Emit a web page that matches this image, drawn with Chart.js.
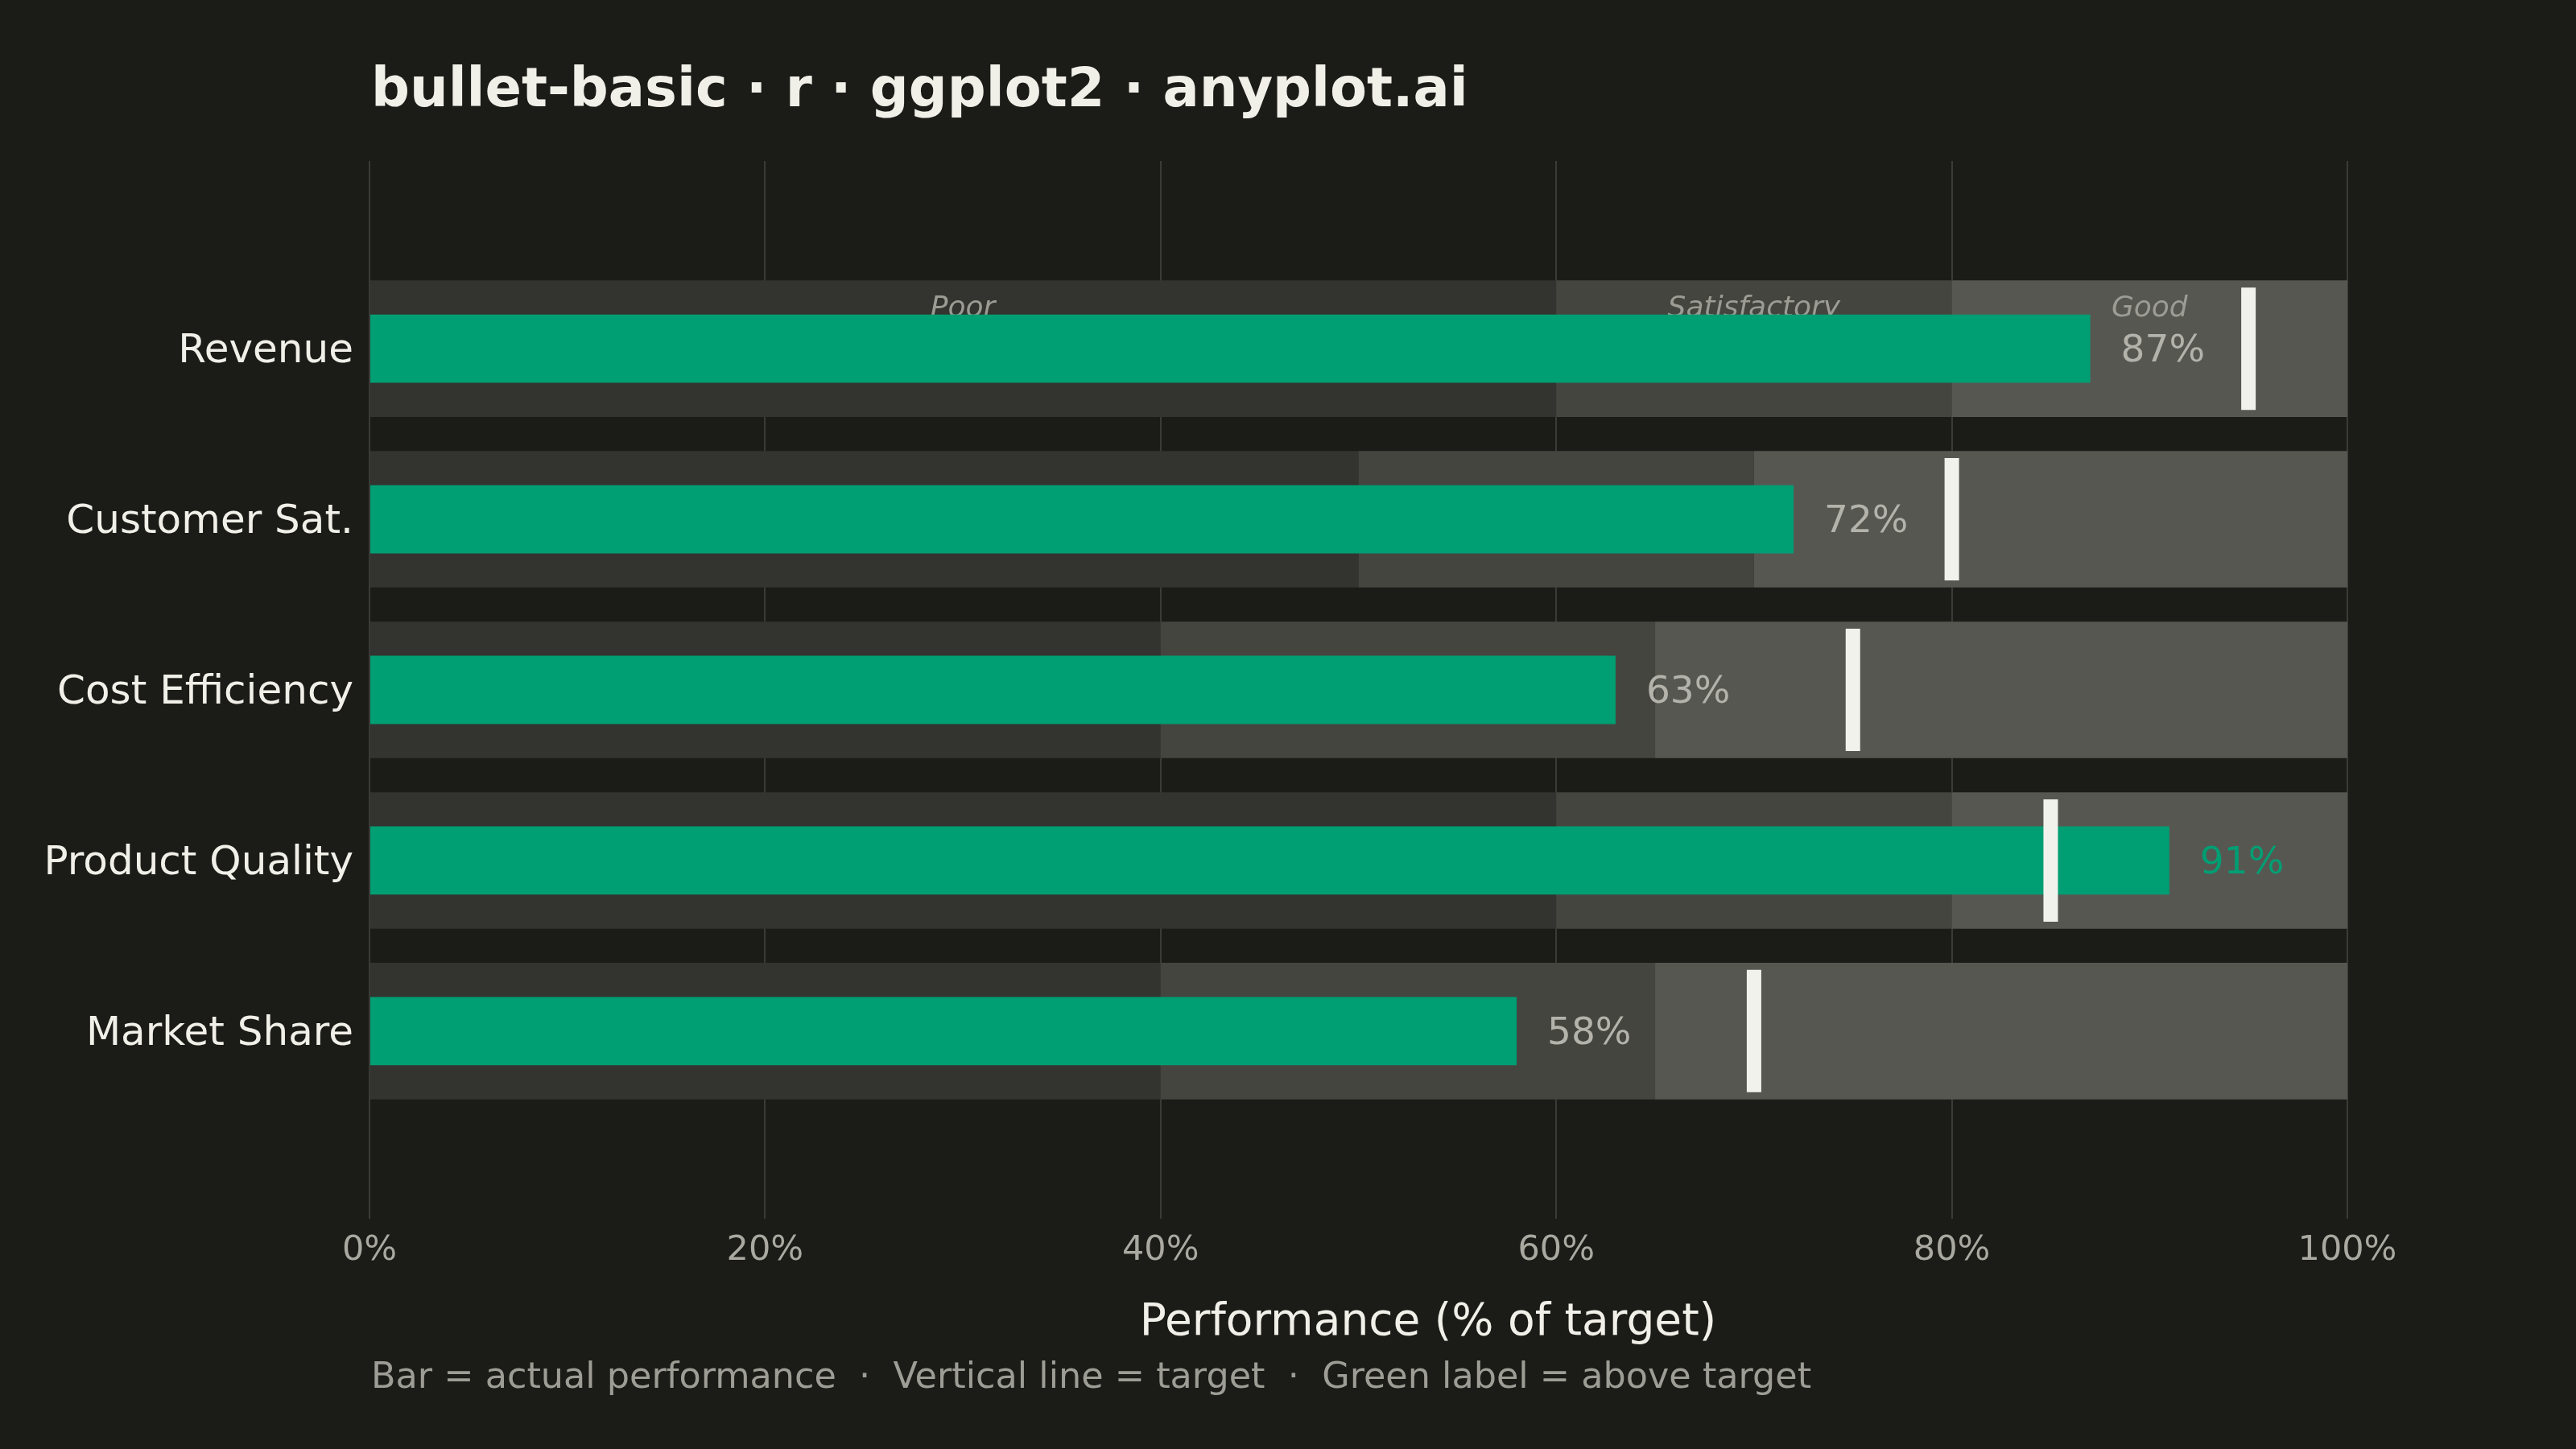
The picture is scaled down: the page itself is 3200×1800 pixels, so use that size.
<!DOCTYPE html>
<html>
<head>
<meta charset="utf-8">
<title>bullet-basic</title>
<script src="https://cdn.jsdelivr.net/npm/chart.js@4.4.1/dist/chart.umd.min.js"></script>
<style>
  html, body { margin: 0; padding: 0; background: #1b1b17; }
  canvas { display: block; }
</style>
</head>
<body>
<canvas id="bullet-chart" width="3200" height="1800"></canvas>
<script>
// Data

const categories = ['Revenue', 'Customer Sat.', 'Cost Efficiency', 'Product Quality', 'Market Share'];
const actual = [87, 72, 63, 91, 58];
const target = [95, 80, 75, 85, 70];
const poorEnd = [60, 50, 40, 60, 40];
const satisfactoryEnd = [80, 70, 65, 80, 65];
const goodEnd = [100, 100, 100, 100, 100];
const bandNames = ['Poor', 'Satisfactory', 'Good'];
const xTicks = [0, 20, 40, 60, 80, 100];

const titleText = 'bullet-basic · r · ggplot2 · anyplot.ai';
const xTitleText = 'Performance (% of target)';
const captionText = 'Bar = actual performance  \u00b7  Vertical line = target  \u00b7  Green label = above target';

// Colours

const BG = '#1b1b17';
const INK = '#f0efe8';
const MUTED = '#a9a9a1';
const GREEN = '#009e73';
const GRID = '#3a3a36';
const BAND_COLORS = ['#33332f', '#454540', '#575752'];

Chart.defaults.font.family = '"DejaVu Sans", sans-serif';

const rows = categories.map((c, i) => i + 1);

function bandData(starts, ends) {
    return rows.map((r, i) => ({ x: [starts[i], ends[i]], y: r }));
}

const zeros = rows.map(() => 0);

// Draw page background, band labels, value labels, titles and caption

const overlay = {
    id: 'overlay',
    beforeDraw(chart) {
        const ctx = chart.ctx;
        ctx.save();
        ctx.fillStyle = BG;
        ctx.fillRect(0, 0, chart.width, chart.height);
        ctx.restore();
    },
    afterDatasetDraw(chart, args) {
        // band names go on the first row, under the actual bar
        if (args.index !== 2) return;
        const { ctx, scales: { x, y } } = chart;
        const starts = [0, poorEnd[0], satisfactoryEnd[0]];
        const ends = [poorEnd[0], satisfactoryEnd[0], goodEnd[0]];
        ctx.save();
        ctx.font = 'italic 36px "DejaVu Sans"';
        ctx.fillStyle = '#9c9c94';
        ctx.textAlign = 'center';
        ctx.textBaseline = 'alphabetic';
        const yy = y.getPixelForValue(rows[0]) - 40;
        bandNames.forEach((name, i) => {
            ctx.fillText(name, x.getPixelForValue((starts[i] + ends[i]) / 2), yy);
        });
        ctx.restore();
    },
    afterDatasetsDraw(chart) {
        const { ctx, scales: { x, y } } = chart;
        ctx.save();
        ctx.font = '47px "DejaVu Sans"';
        ctx.textAlign = 'left';
        ctx.textBaseline = 'middle';
        actual.forEach((v, i) => {
            ctx.fillStyle = v > target[i] ? GREEN : '#b3b3ab';
            ctx.fillText(v + '%', x.getPixelForValue(v) + 38, y.getPixelForValue(rows[i]) + 4);
        });
        ctx.restore();
    },
    afterDraw(chart) {
        const { ctx, chartArea } = chart;
        ctx.save();
        ctx.textAlign = 'left';
        ctx.textBaseline = 'alphabetic';
        ctx.fillStyle = INK;
        ctx.font = 'bold 67px "DejaVu Sans"';
        ctx.fillText(titleText, chartArea.left + 2, 132);

        ctx.textAlign = 'center';
        ctx.font = '55px "DejaVu Sans"';
        ctx.fillText(xTitleText, 1774, 1658);

        ctx.textAlign = 'left';
        ctx.fillStyle = '#9d9d96';
        ctx.font = '44.5px "DejaVu Sans"';
        ctx.fillText(captionText, chartArea.left + 2, 1724);
        ctx.restore();
    }
};

const ctx = document.getElementById('bullet-chart').getContext('2d');

const bulletChart = new Chart(ctx, {
    type: 'bar',
    data: {
        datasets: [
            {
                label: bandNames[0],
                data: bandData(zeros, poorEnd),
                backgroundColor: BAND_COLORS[0],
                barPercentage: 0.8,
                order: 5
            },
            {
                label: bandNames[1],
                data: bandData(poorEnd, satisfactoryEnd),
                backgroundColor: BAND_COLORS[1],
                barPercentage: 0.8,
                order: 4
            },
            {
                label: bandNames[2],
                data: bandData(satisfactoryEnd, goodEnd),
                backgroundColor: BAND_COLORS[2],
                barPercentage: 0.8,
                order: 3
            },
            {
                label: 'Actual',
                data: rows.map((r, i) => ({ x: actual[i], y: r })),
                backgroundColor: GREEN,
                barPercentage: 0.4,
                order: 2
            },
            {
                type: 'scatter',
                label: 'Target',
                data: rows.map((r, i) => ({ x: target[i], y: r })),
                pointStyle: 'line',
                rotation: 90,
                radius: 76,
                borderWidth: 18,
                borderColor: '#f2f2ec',
                backgroundColor: '#f2f2ec',
                order: 1
            }
        ]
    },
    options: {
        indexAxis: 'y',
        responsive: false,
        devicePixelRatio: 1,
        animation: false,
        events: [],
        layout: {
            padding: { top: 200, right: 284, bottom: 0, left: 0 }
        },
        datasets: {
            bar: {
                grouped: false,
                categoryPercentage: 1,
                borderWidth: 0
            }
        },
        plugins: {
            legend: { display: false },
            tooltip: { enabled: false },
            title: { display: false }
        },
        scales: {
            x: {
                type: 'linear',
                min: 0,
                max: 100,
                afterBuildTicks: scale => {
                    scale.ticks = xTicks.map(v => ({ value: v }));
                },
                afterFit: scale => {
                    scale.height = 286;
                },
                grid: {
                    color: GRID,
                    lineWidth: 2,
                    drawTicks: false
                },
                border: { display: false },
                ticks: {
                    color: MUTED,
                    padding: 14,
                    font: { size: 43 },
                    callback: v => v + '%'
                }
            },
            y: {
                type: 'linear',
                reverse: true,
                offset: false,
                min: -0.1,
                max: 6.1,
                afterBuildTicks: scale => {
                    scale.ticks = rows.map(v => ({ value: v }));
                },
                afterFit: scale => {
                    scale.width = 459;
                },
                grid: { display: false },
                border: { display: false },
                ticks: {
                    color: INK,
                    padding: 12,
                    labelOffset: 4,
                    font: { size: 50 },
                    callback: v => categories[v - 1]
                }
            }
        }
    },
    plugins: [overlay]
});
</script>
</body>
</html>
